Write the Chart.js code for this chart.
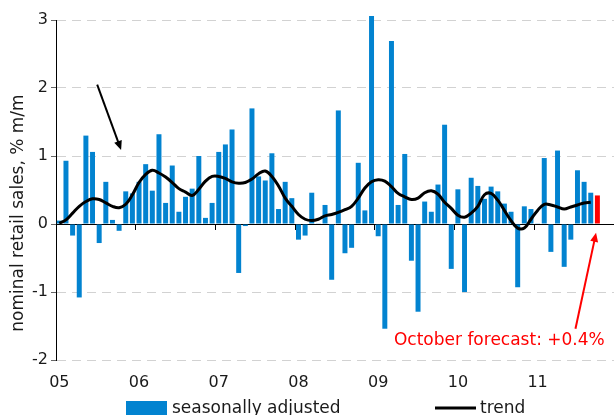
<!DOCTYPE html>
<html>
<head>
<meta charset="utf-8">
<script src="https://cdn.jsdelivr.net/npm/chart.js@4.4.0/dist/chart.umd.min.js"></script>
<style>
    html, body { margin: 0; padding: 0; background: #fff; overflow: hidden; }
    #wrap { width: 614px; height: 415px; overflow: hidden; }
</style>
</head>
<body>
<div id="wrap"><canvas id="salesChart" width="614" height="432"></canvas></div>
<script>
// tick labels (one per year) and month slots Jan 05 .. Dec 11
const yearLabels = ['05', '06', '07', '08', '09', '10', '11'];
const monthLabels = [];
yearLabels.forEach(yy => {
    ['Jan', 'Feb', 'Mar', 'Apr', 'May', 'Jun', 'Jul', 'Aug', 'Sep', 'Oct', 'Nov', 'Dec'].forEach(m => monthLabels.push(m + ' ' + yy));
});

// seasonally adjusted m/m, Jan 05 .. Oct 11 (last one is the forecast)
const seasonallyAdjusted = [
    0.05, 0.93, -0.17, -1.08, 1.30, 1.06, -0.28, 0.62, 0.06, -0.10, 0.48, 0.45,
    0.62, 0.88, 0.49, 1.32, 0.31, 0.86, 0.18, 0.40, 0.52, 1.00, 0.09, 0.31,
    1.06, 1.17, 1.39, -0.72, -0.03, 1.70, 0.70, 0.64, 1.04, 0.22, 0.62, 0.38,
    -0.23, -0.17, 0.46, 0.01, 0.28, -0.82, 1.67, -0.43, -0.35, 0.90, 0.20, 3.06,
    -0.18, -1.54, 2.69, 0.28, 1.03, -0.54, -1.29, 0.33, 0.18, 0.58, 1.46, -0.66,
    0.51, -1.00, 0.68, 0.56, 0.37, 0.55, 0.48, 0.30, 0.18, -0.93, 0.26, 0.22,
    0.01, 0.97, -0.41, 1.08, -0.63, -0.23, 0.79, 0.62, 0.46, 0.42
];

// trend, Jan 05 .. Sep 11
const trend = [
    0.01, 0.06, 0.16, 0.26, 0.33, 0.37, 0.36, 0.31, 0.26, 0.24, 0.29, 0.43,
    0.61, 0.73, 0.79, 0.75, 0.69, 0.61, 0.52, 0.47, 0.42, 0.51, 0.63, 0.70,
    0.70, 0.67, 0.62, 0.60, 0.61, 0.66, 0.74, 0.78, 0.70, 0.56, 0.38, 0.26,
    0.14, 0.07, 0.05, 0.07, 0.12, 0.14, 0.17, 0.21, 0.26, 0.38, 0.53, 0.62,
    0.65, 0.63, 0.55, 0.45, 0.40, 0.36, 0.38, 0.46, 0.49, 0.44, 0.32, 0.23,
    0.13, 0.10, 0.16, 0.26, 0.43, 0.45, 0.35, 0.20, 0.05, -0.06, -0.06, 0.07,
    0.20, 0.29, 0.28, 0.25, 0.22, 0.25, 0.28, 0.31, 0.32
];

const forecastIndex = seasonallyAdjusted.length - 1;

// annotation anchors in data units: [month index, value]
const blackArrow = [[5.7, 2.05], [9.3, 1.09]];
const redArrow = [[77.7, -1.54], [80.8, -0.13]];
const noteAt = [82.1, -1.71];
const noteText = 'October forecast: +0.4%';
const yTitle = 'nominal retail sales, % m/m';

const BLUE = '#0283d0';
const RED = '#ff0000';
const FONT = "'DejaVu Sans', Verdana, sans-serif";

Chart.defaults.font.family = FONT;
Chart.defaults.color = '#1a1a1a';

function drawArrow(ctx, x1, y1, x2, y2, color, width) {
    const ang = Math.atan2(y2 - y1, x2 - x1);
    const len = 9, half = 4;
    ctx.save();
    ctx.strokeStyle = color;
    ctx.fillStyle = color;
    ctx.lineWidth = width;
    ctx.beginPath();
    ctx.moveTo(x1, y1);
    ctx.lineTo(x2 - Math.cos(ang) * len * 0.6, y2 - Math.sin(ang) * len * 0.6);
    ctx.stroke();
    ctx.beginPath();
    ctx.moveTo(x2, y2);
    ctx.lineTo(x2 - Math.cos(ang) * len + Math.sin(ang) * half, y2 - Math.sin(ang) * len - Math.cos(ang) * half);
    ctx.lineTo(x2 - Math.cos(ang) * len - Math.sin(ang) * half, y2 - Math.sin(ang) * len + Math.cos(ang) * half);
    ctx.closePath();
    ctx.fill();
    ctx.restore();
}

const extras = {
    id: 'extras',
    afterDraw(chart) {
        const { ctx, scales: { x, y } } = chart;
        const px = p => [x.getPixelForValue(p[0]), y.getPixelForValue(p[1])];

        const b0 = px(blackArrow[0]), b1 = px(blackArrow[1]);
        drawArrow(ctx, b0[0], b0[1], b1[0], b1[1], '#000', 2);
        const r0 = px(redArrow[0]), r1 = px(redArrow[1]);
        drawArrow(ctx, r0[0], r0[1], r1[0], r1[1], RED, 2);

        ctx.save();
        ctx.font = '17px ' + FONT;
        ctx.fillStyle = RED;
        ctx.textAlign = 'right';
        ctx.textBaseline = 'middle';
        const n = px(noteAt);
        ctx.fillText(noteText, n[0], n[1]);

        // y axis title
        ctx.fillStyle = '#1a1a1a';
        ctx.textAlign = 'center';
        ctx.translate(19, 213);
        ctx.rotate(-Math.PI / 2);
        ctx.fillText(yTitle, 0, 0);
        ctx.restore();

        // legend
        ctx.save();
        ctx.font = '17px ' + FONT;
        ctx.textBaseline = 'middle';
        ctx.fillStyle = BLUE;
        ctx.fillRect(126, 401, 41, 17);
        ctx.fillStyle = '#1a1a1a';
        ctx.fillText('seasonally adjusted', 172, 409);
        ctx.strokeStyle = '#000';
        ctx.lineWidth = 3;
        ctx.beginPath();
        ctx.moveTo(435, 408);
        ctx.lineTo(476, 408);
        ctx.stroke();
        ctx.fillText('trend', 480, 409);
        ctx.restore();
    }
};

new Chart(document.getElementById('salesChart'), {
    type: 'bar',
    data: {
        labels: monthLabels,
        datasets: [{
            type: 'line',
            label: 'trend',
            data: trend,
            borderColor: '#000',
            borderWidth: 3,
            pointRadius: 0,
            tension: 0.4,
            fill: false,
            order: 0
        }, {
            label: 'seasonally adjusted',
            data: seasonallyAdjusted,
            backgroundColor: seasonallyAdjusted.map((v, i) => i === forecastIndex ? RED : BLUE),
            barPercentage: 0.75,
            categoryPercentage: 1.0,
            clip: { left: 0, top: 6, right: 0, bottom: 0 },
            order: 1
        }]
    },
    options: {
        responsive: false,
        animation: false,
        layout: { padding: { top: 20, left: 0, right: 0, bottom: 32 } },
        plugins: {
            legend: { display: false },
            tooltip: { enabled: false }
        },
        scales: {
            x: {
                position: 'bottom',
                offset: true,
                grid: { display: false, drawTicks: false },
                border: { display: false },
                ticks: {
                    autoSkip: false,
                    maxRotation: 0,
                    padding: 13,
                    font: { size: 16 },
                    callback: (v, i) => i % 12 === 0 ? yearLabels[i / 12] : ''
                },
                afterFit: s => {
                    s.height = 40;
                    s.paddingLeft = 0;
                    s.paddingRight = 0;
                }
            },
            x2: {
                axis: 'x',
                type: 'category',
                position: { y: 0 },
                offset: true,
                z: 1,
                grid: {
                    offset: true,
                    drawOnChartArea: false,
                    drawTicks: true,
                    tickLength: 5,
                    color: c => (c.index % 12 === 0 && c.index < monthLabels.length) ? '#000' : 'rgba(0,0,0,0)'
                },
                border: { display: true, color: '#000', width: 1 },
                ticks: { display: false, autoSkip: false },
                afterFit: s => {
                    s.paddingLeft = 0;
                    s.paddingRight = 0;
                }
            },
            y: {
                position: 'left',
                min: -2,
                max: 3,
                grid: {
                    color: c => c.tick && c.tick.value === 0 ? 'rgba(0,0,0,0)' : '#d2d2d2',
                    tickColor: '#666',
                    tickLength: 5,
                    lineWidth: 1
                },
                border: { display: true, color: '#000', width: 1, dash: [9, 6] },
                ticks: {
                    stepSize: 1,
                    padding: 3,
                    font: { size: 16 }
                },
                afterFit: s => { s.width = 56; }
            }
        }
    },
    plugins: [extras]
});
</script>
</body>
</html>
